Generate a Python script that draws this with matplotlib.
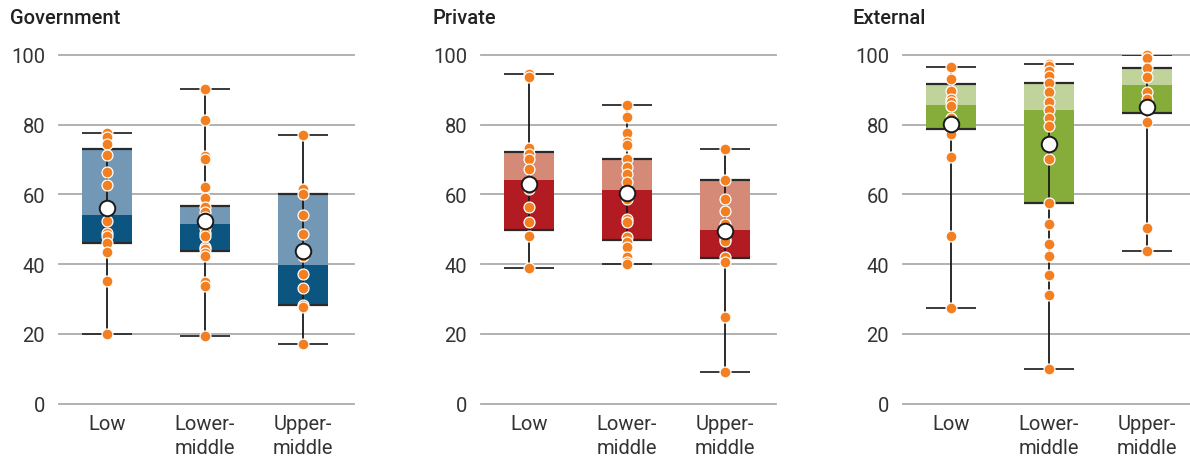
import matplotlib
matplotlib.use("Agg")
import matplotlib.pyplot as plt

plt.rcParams["font.family"] = ["Roboto", "DejaVu Sans"]

categories = ["Low", "Lower-\nmiddle", "Upper-\nmiddle"]
panel_titles = ["Government", "Private", "External"]
y_ticks = [0, 20, 40, 60, 80, 100]

# Government financing shares (%)
gov_min = [20.0, 19.5, 17.1]
gov_q1 = [46.2, 43.9, 28.3]
gov_med = [54.2, 51.5, 39.9]
gov_q3 = [73.0, 56.7, 60.0]
gov_max = [77.7, 90.2, 77.1]
gov_mean = [56.2, 52.4, 43.8]
gov_low_pts = [77.7, 76.3, 74.4, 71.2, 66.5, 62.6, 52.4, 49.0, 48.2, 46.0, 43.4, 35.3, 20.0]
gov_lm_pts = [90.2, 81.4, 71.0, 70.2, 62.0, 58.9, 56.5, 54.8, 53.5, 50.5, 48.8, 48.0,
              45.0, 44.3, 43.2, 42.4, 34.8, 33.7, 19.5]
gov_um_pts = [77.1, 61.4, 60.0, 54.0, 48.5, 42.4, 37.3, 33.2, 28.3, 27.6, 17.1]

# Private financing shares (%)
priv_min = [38.9, 40.1, 9.1]
priv_q1 = [49.9, 46.8, 41.9]
priv_med = [64.2, 61.2, 49.8]
priv_q3 = [72.0, 70.2, 64.1]
priv_max = [94.4, 85.5, 73.0]
priv_mean = [63.0, 60.3, 49.4]
priv_low_pts = [94.4, 93.6, 73.4, 71.6, 70.2, 67.3, 62.0, 61.4, 56.5, 52.0, 48.2, 38.9]
priv_lm_pts = [85.7, 82.1, 77.7, 75.0, 74.1, 70.2, 67.8, 65.9, 63.5, 58.7, 53.0, 52.0,
               47.7, 46.3, 44.9, 42.0, 40.6, 40.1]
priv_um_pts = [73.0, 64.2, 58.7, 55.1, 51.6, 47.2, 46.5, 42.0, 40.5, 24.8, 9.1]

# External financing shares (%)
ext_min = [27.4, 9.9, 43.8]
ext_q1 = [78.7, 57.4, 83.4]
ext_med = [85.6, 84.1, 91.2]
ext_q3 = [91.6, 92.0, 96.2]
ext_max = [96.5, 97.4, 100.0]
ext_mean = [80.2, 74.5, 84.9]
ext_low_pts = [96.6, 93.1, 89.7, 87.4, 86.4, 85.3, 81.8, 77.2, 70.6, 48.1, 27.4]
ext_lm_pts = [97.4, 96.8, 95.3, 93.8, 91.9, 89.4, 86.5, 84.1, 81.9, 79.7, 70.0, 57.5,
              51.4, 45.9, 42.3, 36.9, 31.1, 9.9]
ext_um_pts = [100.0, 99.0, 96.3, 93.5, 89.4, 87.3, 80.6, 50.4, 43.8]

panels = [
    dict(mins=gov_min, q1=gov_q1, med=gov_med, q3=gov_q3, maxs=gov_max, mean=gov_mean,
         pts=[gov_low_pts, gov_lm_pts, gov_um_pts], dark="#0c5580", light="#7398b6"),
    dict(mins=priv_min, q1=priv_q1, med=priv_med, q3=priv_q3, maxs=priv_max, mean=priv_mean,
         pts=[priv_low_pts, priv_lm_pts, priv_um_pts], dark="#b31b22", light="#d58977"),
    dict(mins=ext_min, q1=ext_q1, med=ext_med, q3=ext_q3, maxs=ext_max, mean=ext_mean,
         pts=[ext_low_pts, ext_lm_pts, ext_um_pts], dark="#86ad3a", light="#bfd39b"),
]

W, H = 1190, 464
fig = plt.figure(figsize=(W / 100, H / 100), dpi=100)

ax_left_px = [59, 481, 903]
ax_width_px = 295
ax_top_px, ax_bot_px = 55.7, 404.8
title_x_px = [10, 432, 853]

text_color = "#333333"
box_w = 0.51
x = [0, 1, 2]

for i, p in enumerate(panels):
    ax = fig.add_axes([ax_left_px[i] / W, 1 - ax_bot_px / H,
                       ax_width_px / W, (ax_bot_px - ax_top_px) / H])
    ax.set_xlim(-0.49, 2.52)
    ax.set_ylim(0, 100)
    for s in ax.spines.values():
        s.set_visible(False)
    for t in y_ticks:
        ax.axhline(t, color="#ababab", lw=1.3, zorder=0, clip_on=False)

    # lower half (Q1 -> median) and upper half (median -> Q3)
    ax.bar(x, [m - a for m, a in zip(p["med"], p["q1"])], bottom=p["q1"],
           width=box_w, color=p["dark"], zorder=2, linewidth=0)
    ax.bar(x, [b - m for b, m in zip(p["q3"], p["med"])], bottom=p["med"],
           width=box_w, color=p["light"], zorder=2, linewidth=0)
    for xi in x:
        ax.hlines([p["q1"][xi], p["q3"][xi]], xi - box_w / 2, xi + box_w / 2,
                  color="#2a2a2a", lw=1.6, zorder=3)
        ax.hlines([p["mins"][xi], p["maxs"][xi]], xi - box_w / 2, xi + box_w / 2,
                  color="#2a2a2a", lw=1.3, zorder=3)
    ax.vlines(x, p["mins"], p["maxs"], color="#1a1a1a", lw=1.3, zorder=3)

    for xi, vals in zip(x, p["pts"]):
        ax.scatter([xi] * len(vals), vals, s=62, color="#f47f20",
                   edgecolor="white", linewidth=0.9, zorder=4, clip_on=False)
    ax.scatter(x, p["mean"], s=125, color="white", edgecolor="#1a1a1a",
               linewidth=1.4, zorder=5, clip_on=False)

    ax.set_yticks(y_ticks)
    ax.set_yticklabels([str(t) for t in y_ticks])
    ax.set_xticks(x)
    ax.set_xticklabels(categories, linespacing=1.35)
    ax.tick_params(axis="y", length=0, pad=10, labelsize=14.5, labelcolor=text_color)
    ax.tick_params(axis="x", length=0, pad=7, labelsize=14.5, labelcolor=text_color)
    for lab in ax.get_xticklabels():
        lab.set_verticalalignment("top")

    fig.text(title_x_px[i] / W, 1 - 18 / H, panel_titles[i], fontsize=14.5,
             fontweight="medium", color="#222222", ha="left", va="center")

fig.savefig("out.png", dpi=100)
